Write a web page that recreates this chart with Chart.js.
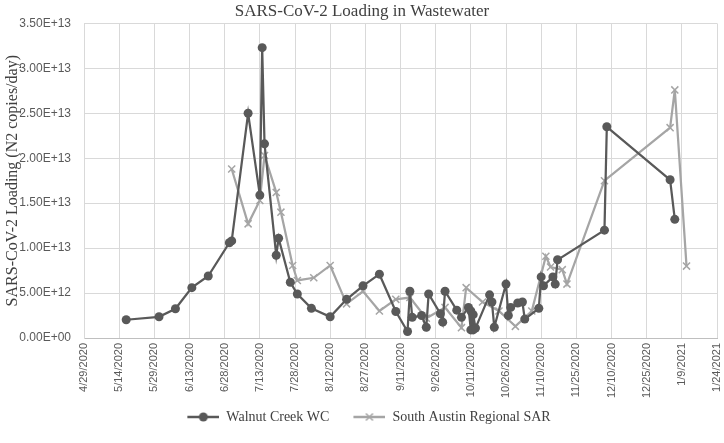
<!DOCTYPE html>
<html>
<head>
<meta charset="utf-8">
<script src="https://cdn.jsdelivr.net/npm/chart.js@4.4.1/dist/chart.umd.min.js"></script>
<style>
  html, body { margin: 0; padding: 0; background: #fff; }
  #wrap { width: 724px; height: 443px; }
</style>
</head>
<body>
<div id="wrap"><canvas id="myChart"></canvas></div>
<script>
"use strict";

// Walnut Creek WC
const wcDates = [
  "5/17/2020", "5/31/2020", "6/7/2020", "6/14/2020", "6/21/2020", "6/30/2020", "7/1/2020",
  "7/8/2020", "7/13/2020", "7/14/2020", "7/15/2020", "7/20/2020", "7/21/2020", "7/26/2020",
  "7/29/2020", "8/4/2020", "8/12/2020", "8/19/2020", "8/26/2020", "9/2/2020", "9/9/2020",
  "9/14/2020", "9/15/2020", "9/16/2020", "9/20/2020", "9/22/2020", "9/23/2020", "9/28/2020",
  "9/29/2020", "9/30/2020", "10/5/2020", "10/7/2020", "10/10/2020", "10/11/2020", "10/11/2020",
  "10/12/2020", "10/12/2020", "10/13/2020", "10/19/2020", "10/20/2020", "10/21/2020", "10/26/2020",
  "10/27/2020", "10/28/2020", "10/31/2020", "11/2/2020", "11/3/2020", "11/9/2020", "11/10/2020",
  "11/11/2020", "11/15/2020", "11/16/2020", "11/17/2020", "12/7/2020", "12/8/2020", "1/4/2021",
  "1/6/2021"
];
const wcLoads = [
  2.03e12, 2.36e12, 3.25e12, 5.6e12, 6.9e12, 10.6e12, 10.8e12,
  25.0e12, 15.9e12, 32.3e12, 21.6e12, 9.2e12, 11.1e12, 6.2e12,
  4.9e12, 3.3e12, 2.36e12, 4.3e12, 5.8e12, 7.1e12, 2.95e12,
  0.72e12, 5.2e12, 2.3e12, 2.5e12, 1.2e12, 4.9e12, 2.7e12,
  1.76e12, 5.2e12, 3.1e12, 2.3e12, 3.4e12, 0.9e12, 3.0e12,
  0.9e12, 2.6e12, 1.1e12, 4.8e12, 4.0e12, 1.2e12, 6.0e12,
  2.5e12, 3.4e12, 3.9e12, 4.0e12, 2.1e12, 3.3e12, 6.8e12,
  5.8e12, 6.8e12, 6.0e12, 8.7e12, 12.0e12, 23.5e12, 17.6e12,
  13.2e12
];

// South Austin Regional SAR
const sarDates = [
  "7/1/2020", "7/8/2020", "7/13/2020", "7/15/2020", "7/20/2020", "7/22/2020", "7/27/2020",
  "7/29/2020", "8/5/2020", "8/12/2020", "8/19/2020", "8/26/2020", "9/2/2020", "9/9/2020",
  "9/15/2020", "9/22/2020", "9/30/2020", "10/7/2020", "10/9/2020", "10/16/2020", "10/23/2020",
  "10/30/2020", "11/6/2020", "11/12/2020", "11/14/2020", "11/19/2020", "11/21/2020", "12/7/2020",
  "1/4/2021", "1/6/2021", "1/11/2021"
];
const sarLoads = [
  18.8e12, 12.7e12, 15.3e12, 20.3e12, 16.2e12, 14.0e12, 8.07e12,
  6.4e12, 6.7e12, 8.07e12, 3.8e12, 5.2e12, 3.0e12, 4.3e12,
  4.5e12, 2.2e12, 3.4e12, 1.15e12, 5.6e12, 4.0e12, 3.0e12,
  1.3e12, 3.0e12, 9.1e12, 7.9e12, 7.6e12, 6.0e12, 17.5e12,
  23.4e12, 27.6e12, 8.0e12
];

const seriesNames = ["Walnut Creek WC", "South Austin Regional SAR"];
const startDate = Date.UTC(2020, 3, 29);
const dayMs = 86400000;

//Antal dagar sedan 4/29/2020
function dayOf(s) {
  const p = s.split("/").map(Number);
  return (Date.UTC(p[2], p[0] - 1, p[1]) - startDate) / dayMs;
}

function dateLabel(v) {
  const d = new Date(startDate + v * dayMs);
  return (d.getUTCMonth() + 1) + "/" + d.getUTCDate() + "/" + d.getUTCFullYear();
}

function sci(v) {
  if (v === 0) return "0.00E+00";
  const e = Math.floor(Math.log10(v) + 1e-9);
  const m = v / Math.pow(10, e);
  return m.toFixed(2) + "E+" + String(e).padStart(2, "0");
}

function toPoints(dates, loads) {
  return dates.map(function (d, i) {
    return { x: dayOf(d), y: loads[i] };
  });
}

//Legend-markörer: tomrum + linje + symbol
function legendMarker(color, kind) {
  const c = document.createElement("canvas");
  c.width = 46;
  c.height = 12;
  const g = c.getContext("2d");
  g.strokeStyle = color;
  g.fillStyle = color;
  g.lineWidth = 2.5;
  g.beginPath();
  g.moveTo(14, 6);
  g.lineTo(46, 6);
  g.stroke();
  if (kind === "circle") {
    g.beginPath();
    g.arc(30, 6, 4.5, 0, Math.PI * 2);
    g.fill();
  } else {
    g.lineWidth = 1.5;
    g.beginPath();
    g.moveTo(26.5, 2.5);
    g.lineTo(33.5, 9.5);
    g.moveTo(33.5, 2.5);
    g.lineTo(26.5, 9.5);
    g.stroke();
  }
  return c;
}

const markers = [legendMarker("#595959", "circle"), legendMarker("#a5a5a5", "cross")];

const ctx = document.getElementById("myChart");

new Chart(ctx, {
  type: "line",
  data: {
    datasets: [
      {
        label: seriesNames[0],
        data: toPoints(wcDates, wcLoads),
        borderColor: "#595959",
        backgroundColor: "#595959",
        borderWidth: 2.25,
        pointStyle: "circle",
        pointRadius: 4.5,
        pointBorderWidth: 0,
        pointBackgroundColor: "#595959",
      },
      {
        label: seriesNames[1],
        data: toPoints(sarDates, sarLoads),
        borderColor: "#a5a5a5",
        backgroundColor: "#a5a5a5",
        borderWidth: 2.25,
        pointStyle: "crossRot",
        pointRadius: 5,
        pointBorderWidth: 1.5,
        pointBorderColor: "#a5a5a5",
      },
    ],
  },
  options: {
    responsive: true,
    maintainAspectRatio: false,
    animation: false,
    parsing: false,
    layout: { padding: { left: 0, right: 0, top: 0, bottom: 9 } },
    plugins: {
      title: {
        display: true,
        text: "SARS-CoV-2 Loading in Wastewater",
        color: "#404040",
        font: { family: "'Liberation Serif', serif", size: 17, weight: "normal" },
        padding: { top: 1, bottom: 2 },
      },
      legend: {
        position: "bottom",
        labels: {
          usePointStyle: true,
          pointStyleWidth: 46,
          padding: 10,
          color: "#404040",
          font: { family: "'Liberation Serif', serif", size: 14 },
          generateLabels: function (chart) {
            const items = Chart.defaults.plugins.legend.labels.generateLabels(chart);
            items.forEach(function (it, i) {
              it.pointStyle = markers[i];
            });
            return items;
          },
        },
      },
      tooltip: { enabled: false },
    },
    scales: {
      x: {
        type: "linear",
        min: 0,
        max: 270,
        afterFit: function (s) {
          s.height = 62;
          s.paddingLeft = 0;
          s.paddingRight = 7;
        },
        ticks: {
          stepSize: 15,
          minRotation: 90,
          maxRotation: 90,
          padding: 5,
          color: "#595959",
          font: { family: "'Liberation Sans', sans-serif", size: 11 },
          callback: function (v) { return dateLabel(v); },
        },
        grid: { color: "#d9d9d9", lineWidth: 1, drawTicks: false },
        border: { color: "#bfbfbf", width: 1 },
      },
      y: {
        min: 0,
        max: 3.5e13,
        afterFit: function (s) { s.width = 84; },
        ticks: {
          stepSize: 5e12,
          padding: 13,
          color: "#595959",
          font: { family: "'Liberation Sans', sans-serif", size: 12 },
          callback: function (v) { return sci(v); },
        },
        grid: { color: "#d9d9d9", lineWidth: 1, drawTicks: false },
        border: { color: "#d9d9d9", width: 1 },
        title: {
          display: true,
          text: "SARS-CoV-2 Loading (N2 copies/day)",
          color: "#404040",
          font: { family: "'Liberation Serif', serif", size: 16 },
          padding: { top: 3, bottom: 3 },
        },
      },
    },
  },
});
</script>
</body>
</html>
